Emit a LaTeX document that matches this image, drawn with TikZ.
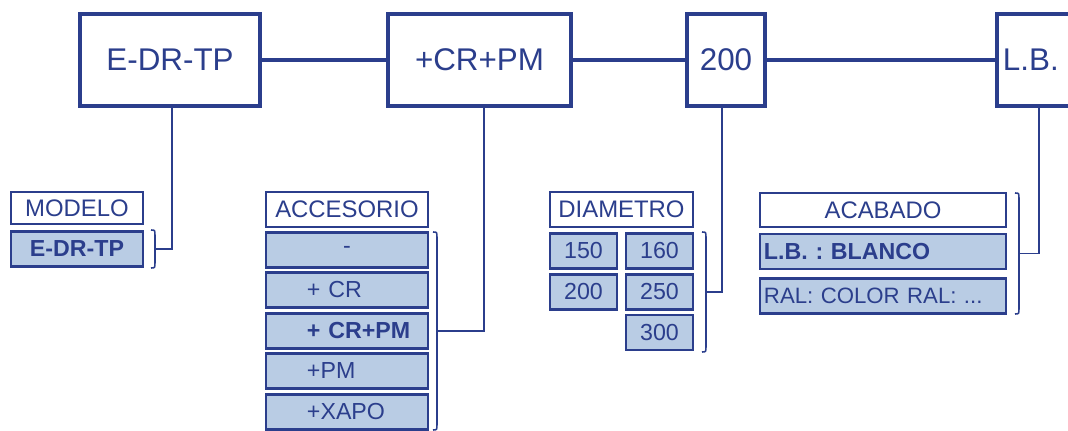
\documentclass[tikz,border=0pt]{standalone}
\usepackage{fontspec}
\setmainfont{Liberation Sans}
\usepackage{xcolor}
\definecolor{navy}{RGB}{43,62,140}
\definecolor{pale}{RGB}{185,204,228}
\frenchspacing

\begin{document}
\begin{tikzpicture}[x=0.025cm, y=-0.025cm,
topbox/.style = {draw=navy, line width=2.9pt, fill=white, text=navy,
            font=\fontsize{22.3}{26}\selectfont, inner sep=0pt},
head/.style = {draw=navy, line width=1.6pt, fill=white, text=navy,
            font=\fontsize{17}{20}\selectfont, inner sep=0pt, minimum height=0.86cm},
opt/.style = {draw=navy, line width=1.8pt, fill=pale, text=navy,
            font=\fontsize{16.5}{20}\selectfont, inner sep=0pt, minimum height=0.88cm},
pick/.style = {opt, font=\fontsize{16.5}{20}\selectfont\bfseries},
bar/.style = {navy, line width=3pt},
link/.style = {navy, line width=1.4pt},
brk/.style = {navy, line width=1.1pt}
                ]
    \useasboundingbox (0,0) rectangle (1068,431);
    \clip (0,0) rectangle (1068,431);

    % code boxes on top
    \foreach \x/\w/\n/\t in {170/4.5/edr/E-DR-TP, 479.5/4.575/crpm/+CR+PM, 726/1.95/dia/200}
        \node[topbox, minimum width=\w cm, minimum height=2.32cm] (\n) at (\x,60) {\t};
    \node[topbox, minimum width=1.95cm, minimum height=2.32cm, text width=1.65cm, align=left] (lb) at (1036,60) {L.B.};
    \draw [bar] (edr) -- (crpm);
    \draw [bar] (crpm) -- (dia);
    \draw [bar] (dia) -- (lb);

    \node[head, minimum width=3.3cm, minimum height=0.8cm] (mod) at (77,208) {MODELO};
    \node[pick, minimum width=3.3cm] (modv) at (77,249) {E-DR-TP};

    \node[head, minimum width=4.05cm] (acc) at (347,209.5) {ACCESORIO};
    \node[opt, minimum width=4.05cm] (acc1) at (347,250) {-};
    \foreach \y/\n/\t in {290/acc2/+~CR, 371/acc4/+PM, 412/acc5/+XAPO}
        \node[opt, minimum width=4.05cm, text width=2cm, align=left] (\n) at (347,\y) {\t};
    \node[pick, minimum width=4.05cm, text width=2cm, align=left] (acc3) at (347,331) {+~CR+PM};

    \node[head, minimum width=3.575cm] (diam) at (621.5,209.5) {DIAMETRO};
    \foreach \x/\y/\n/\t in {583.5/251/d150/150, 583.5/292/d200/200, 659.5/251/d160/160, 659.5/292/d250/250, 659.5/332.5/d300/300}
        \node[opt, minimum width=1.675cm] (\n) at (\x,\y) {\t};

    \node[head, minimum width=6.15cm] (acab) at (883,210) {ACABADO};
    \node[pick, minimum width=6.15cm, text width=5.95cm, align=left] (lbv) at (883,251.5) {L.B. : BLANCO};
    \node[opt, minimum width=6.15cm, text width=5.95cm, align=left,
          font=\fontsize{15.8}{20}\selectfont] (ral) at (883,296) {RAL:~COLOR~RAL:~...};

    % brackets, with a point in the middle for the links
    \foreach \x/\t/\b/\n in {155/230/268/bm, 437/232/430/ba, 706/232/352/bd, 1019/193/314/bc}{
        \draw [brk] (\x-4,\t) .. controls (\x,\t) .. (\x,\t+6) -- (\x,\b-6) .. controls (\x,\b) .. (\x-4,\b);
        \coordinate (\n) at (\x,{(\t+\b)/2});
    }
    \draw [link] ([xshift=0.06cm]edr.south) |- (bm);
    \draw [link] ([xshift=0.11cm]crpm.south) |- (ba);
    \draw [link] ([xshift=-0.1cm]dia.south) |- (bd);
    \draw [link] ([xshift=0.07cm]lb.south) |- (bc);
\end{tikzpicture}
\end{document}
